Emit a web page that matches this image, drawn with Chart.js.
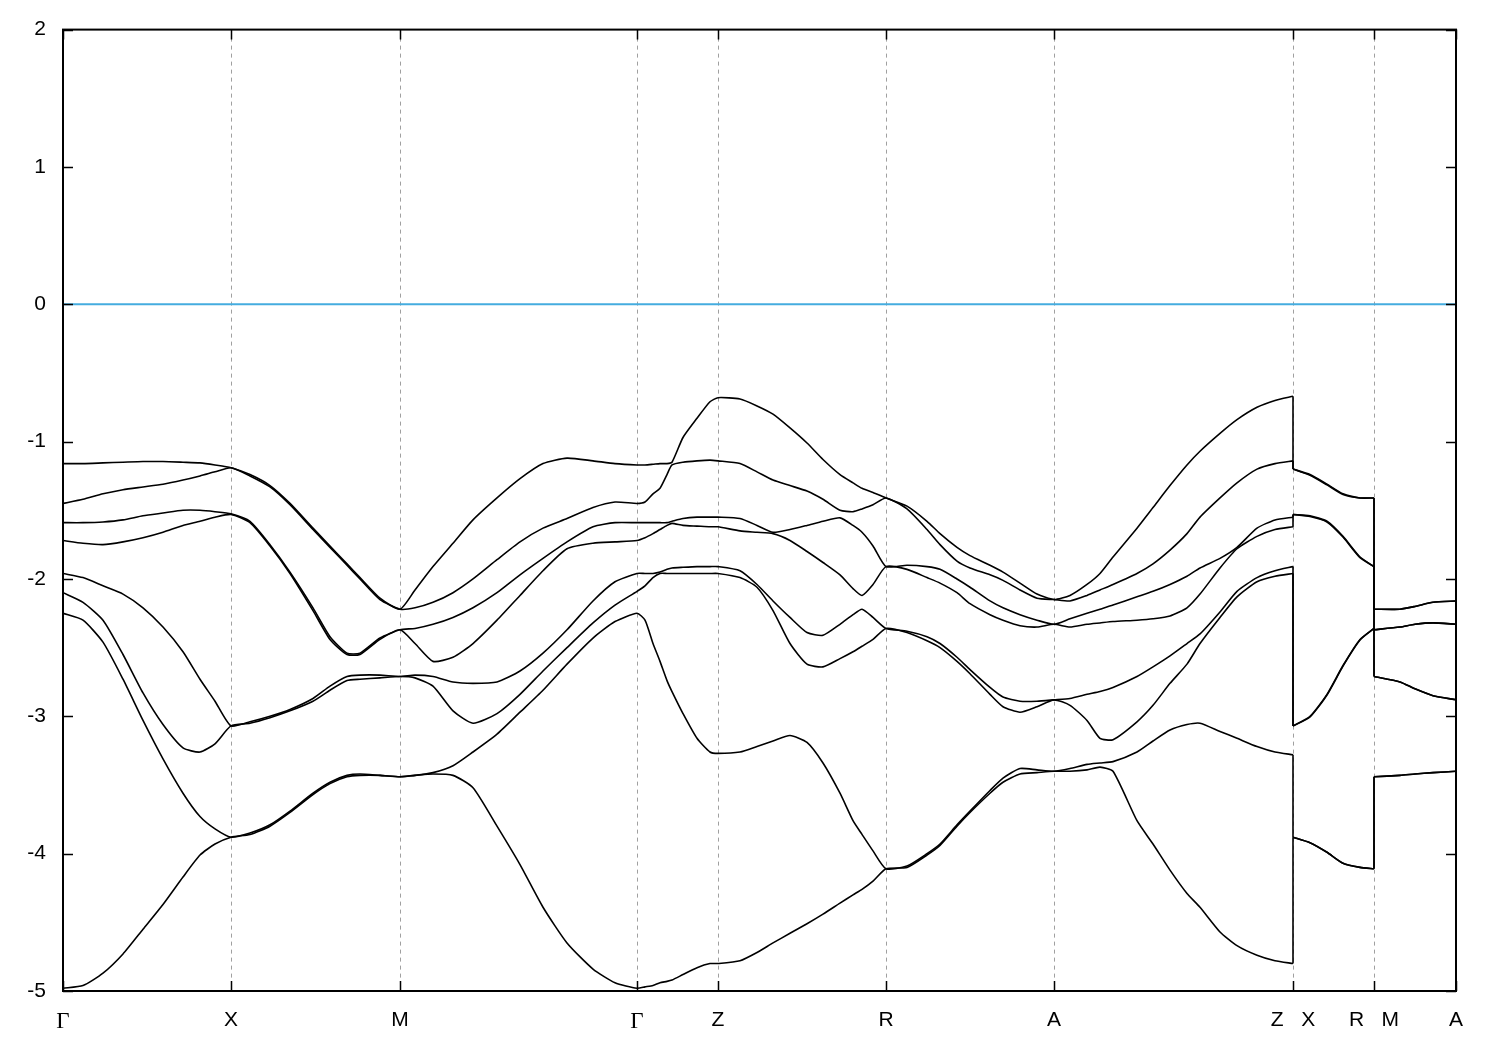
<!DOCTYPE html>
<html>
<head>
<meta charset="utf-8">
<script src="https://cdn.jsdelivr.net/npm/chart.js@4.4.1/dist/chart.umd.min.js"></script>
<style>
  html, body { margin: 0; padding: 0; background: #fff; }
  canvas { display: block; }
</style>
</head>
<body>
<canvas id="bands" width="1500" height="1050"></canvas>
<script>
// distance along the k-path (arbitrary units)
const kPath = [0, 0.20, 0.40, 0.60, 0.80, 1.00, 1.20, 1.37, 1.52, 1.68,
  1.87, 2.07, 2.27, 2.50, 2.67, 2.84, 2.97, 3.17, 3.37,
  3.52, 3.70, 3.90, 4.10, 4.34, 4.57, 4.80, 5.04, 5.30, 5.52, 5.74,
  5.82, 5.90, 5.97, 6.04, 6.09, 6.20, 6.34, 6.47, 6.55,
  6.77, 6.94, 7.10, 7.27, 7.44, 7.60, 7.77, 7.90, 7.99, 8.10, 8.23,
  8.44, 8.64, 8.77, 8.94, 9.07, 9.27, 9.40, 9.57, 9.74, 9.91,
  10.07, 10.24, 10.37, 10.50, 10.74, 10.90, 11.07, 11.24, 11.37, 11.57, 11.74, 11.94, 12.12, 12.30,
  12.30, 12.47, 12.64, 12.80, 12.97, 13.11,
  13.11, 13.37, 13.52, 13.70, 13.93];

// the path breaks at Z|X and R|M: index ranges of the three pieces
const pieces = [[0, 73], [74, 79], [80, 84]];

const symTicks = [0, 1.68, 3.37, 5.74, 6.55, 8.23, 9.91, 12.30, 13.11, 13.93];
const symLabels = ['Γ', 'X', 'M', 'Γ', 'Z', 'R', 'A', 'Z   X', 'R   M', 'A'];
const yTicks = [-5, -4, -3, -2, -1, 0, 1, 2];

// band energies (eV), lowest band first
const band1 = [-4.98, -4.96, -4.87, -4.73, -4.55, -4.37, -4.17, -4.01, -3.93, -3.88,
  -3.86, -3.80, -3.70, -3.57, -3.49, -3.44, -3.43, -3.43, -3.44,
  -3.43, -3.42, -3.43, -3.52, -3.80, -4.08, -4.39, -4.65, -4.84, -4.94, -4.98,
  -4.97, -4.96, -4.94, -4.93, -4.92, -4.88, -4.83, -4.80, -4.80,
  -4.78, -4.72, -4.65, -4.58, -4.51, -4.44, -4.36, -4.30, -4.26, -4.20, -4.11,
  -4.10, -4.01, -3.94, -3.80, -3.70, -3.56, -3.48, -3.42, -3.41, -3.40,
  -3.40, -3.39, -3.37, -3.40, -3.76, -3.93, -4.12, -4.29, -4.39, -4.57, -4.67, -4.74, -4.78, -4.80,
  -3.88, -3.92, -3.99, -4.07, -4.10, -4.11,
  -3.44, -3.43, -3.42, -3.41, -3.40];

const band2 = [-2.25, -2.30, -2.46, -2.73, -3.03, -3.31, -3.56, -3.73, -3.82, -3.88,
  -3.85, -3.79, -3.69, -3.56, -3.48, -3.43, -3.42, -3.43, -3.44,
  -3.43, -3.41, -3.36, -3.26, -3.13, -2.97, -2.81, -2.62, -2.43, -2.31, -2.25,
  -2.30, -2.47, -2.60, -2.74, -2.82, -2.98, -3.16, -3.26, -3.27,
  -3.26, -3.22, -3.18, -3.14, -3.19, -3.34, -3.56, -3.76, -3.86, -3.98, -4.11,
  -4.09, -4.00, -3.93, -3.79, -3.69, -3.54, -3.45, -3.38, -3.39, -3.40,
  -3.38, -3.35, -3.34, -3.33, -3.26, -3.18, -3.10, -3.06, -3.05, -3.11, -3.16, -3.22, -3.26, -3.28,
  -3.88, -3.92, -3.99, -4.07, -4.10, -4.11,
  -3.44, -3.43, -3.42, -3.41, -3.40];

const band3 = [-2.10, -2.17, -2.30, -2.55, -2.83, -3.06, -3.23, -3.26, -3.20, -3.07,
  -3.05, -3.01, -2.96, -2.89, -2.81, -2.74, -2.73, -2.72, -2.71,
  -2.72, -2.78, -2.96, -3.05, -2.98, -2.84, -2.67, -2.50, -2.32, -2.19, -2.09,
  -2.05, -1.99, -1.96, -1.96, -1.96, -1.96, -1.96, -1.96, -1.96,
  -1.99, -2.06, -2.23, -2.47, -2.62, -2.64, -2.58, -2.53, -2.49, -2.44, -2.36,
  -2.39, -2.45, -2.50, -2.60, -2.69, -2.84, -2.93, -2.97, -2.93, -2.88,
  -2.92, -3.03, -3.16, -3.17, -3.04, -2.92, -2.76, -2.62, -2.47, -2.28, -2.13, -2.02, -1.98, -1.96,
  -3.07, -3.005, -2.845, -2.635, -2.445, -2.36,
  -2.71, -2.75, -2.80, -2.85, -2.88];

const band4 = [-1.96, -1.99, -2.05, -2.11, -2.21, -2.35, -2.53, -2.73, -2.89, -3.07,
  -3.04, -3.00, -2.95, -2.87, -2.78, -2.71, -2.70, -2.70, -2.71,
  -2.70, -2.71, -2.75, -2.76, -2.75, -2.67, -2.54, -2.37, -2.16, -2.02, -1.96,
  -1.96, -1.96, -1.95, -1.93, -1.92, -1.915, -1.91, -1.91, -1.91,
  -1.94, -2.04, -2.16, -2.28, -2.39, -2.41, -2.33, -2.26, -2.22, -2.28, -2.36,
  -2.38, -2.42, -2.47, -2.57, -2.66, -2.79, -2.86, -2.89, -2.89, -2.88,
  -2.87, -2.84, -2.82, -2.79, -2.71, -2.64, -2.56, -2.47, -2.40, -2.24, -2.09, -1.99, -1.94, -1.91,
  -3.07, -3.00, -2.84, -2.63, -2.44, -2.36,
  -2.71, -2.75, -2.80, -2.85, -2.88];

const band5 = [-1.72, -1.74, -1.75, -1.73, -1.70, -1.66, -1.61, -1.58, -1.55, -1.53,
  -1.59, -1.76, -1.96, -2.23, -2.44, -2.55, -2.55, -2.44, -2.37,
  -2.47, -2.60, -2.57, -2.47, -2.30, -2.12, -1.94, -1.78, -1.74, -1.73, -1.72,
  -1.70, -1.67, -1.64, -1.61, -1.595, -1.61, -1.615, -1.62, -1.62,
  -1.65, -1.66, -1.67, -1.72, -1.80, -1.88, -1.97, -2.07, -2.12, -2.04, -1.91,
  -1.93, -1.99, -2.03, -2.10, -2.18, -2.26, -2.30, -2.34, -2.35, -2.33,
  -2.35, -2.33, -2.32, -2.31, -2.30, -2.29, -2.27, -2.21, -2.11, -1.92, -1.78, -1.69, -1.64, -1.62,
  -1.53, -1.545, -1.585, -1.695, -1.845, -1.91,
  -2.37, -2.35, -2.33, -2.32, -2.33];

const band6 = [-1.59, -1.59, -1.585, -1.57, -1.54, -1.52, -1.50, -1.50, -1.51, -1.525,
  -1.58, -1.75, -1.95, -2.21, -2.42, -2.54, -2.54, -2.43, -2.37,
  -2.36, -2.33, -2.28, -2.21, -2.10, -1.97, -1.85, -1.73, -1.62, -1.59, -1.59,
  -1.59, -1.59, -1.59, -1.59, -1.58, -1.56, -1.55, -1.55, -1.55,
  -1.56, -1.61, -1.66, -1.64, -1.61, -1.58, -1.555, -1.61, -1.66, -1.76, -1.91,
  -1.90, -1.91, -1.93, -2.00, -2.06, -2.16, -2.21, -2.26, -2.30, -2.33,
  -2.29, -2.25, -2.22, -2.19, -2.13, -2.09, -2.04, -1.98, -1.92, -1.85, -1.77, -1.63, -1.57, -1.55,
  -1.53, -1.54, -1.58, -1.69, -1.84, -1.91,
  -2.37, -2.35, -2.33, -2.32, -2.33];

const band7 = [-1.45, -1.42, -1.38, -1.35, -1.33, -1.31, -1.28, -1.25, -1.22, -1.19,
  -1.25, -1.33, -1.46, -1.64, -1.77, -1.90, -2.00, -2.15, -2.22,
  -2.21, -2.17, -2.10, -2.00, -1.86, -1.73, -1.63, -1.56, -1.48, -1.44, -1.45,
  -1.44, -1.38, -1.34, -1.24, -1.17, -1.15, -1.14, -1.135, -1.14,
  -1.16, -1.22, -1.28, -1.32, -1.36, -1.42, -1.50, -1.51, -1.49, -1.46, -1.41,
  -1.49, -1.64, -1.75, -1.87, -1.92, -1.97, -2.01, -2.08, -2.14, -2.15,
  -2.16, -2.12, -2.08, -2.04, -1.96, -1.89, -1.79, -1.67, -1.55, -1.41, -1.30, -1.20, -1.16, -1.14,
  -1.20, -1.245, -1.315, -1.385, -1.41, -1.41,
  -2.22, -2.22, -2.20, -2.17, -2.16];

const band8 = [-1.16, -1.16, -1.155, -1.15, -1.145, -1.145, -1.15, -1.155, -1.17, -1.19,
  -1.24, -1.32, -1.45, -1.63, -1.76, -1.89, -1.99, -2.14, -2.22,
  -2.08, -1.91, -1.74, -1.57, -1.41, -1.27, -1.16, -1.12, -1.14, -1.16, -1.17,
  -1.17, -1.165, -1.16, -1.16, -1.15, -0.97, -0.83, -0.71, -0.68,
  -0.69, -0.74, -0.80, -0.90, -1.01, -1.13, -1.24, -1.30, -1.34, -1.37, -1.41,
  -1.47, -1.58, -1.67, -1.77, -1.83, -1.90, -1.95, -2.03, -2.11, -2.15,
  -2.12, -2.04, -1.96, -1.84, -1.63, -1.48, -1.32, -1.17, -1.07, -0.94, -0.84, -0.75, -0.70, -0.67,
  -1.20, -1.24, -1.31, -1.38, -1.41, -1.41,
  -2.22, -2.22, -2.20, -2.17, -2.16];

const fermiLevel = [0, 0];

const bands = [band1, band2, band3, band4, band5, band6, band7, band8];

const lineStyle = { borderColor: '#000', borderWidth: 1.6, pointRadius: 0, fill: false };

const datasets = [{
  data: [{ x: kPath[0], y: fermiLevel[0] }, { x: kPath[kPath.length - 1], y: fermiLevel[1] }],
  borderColor: '#45acdf',
  borderWidth: 2,
  pointRadius: 0,
  fill: false
}];

bands.forEach(b => {
  const pts = kPath.map((k, i) => ({ x: k, y: b[i] }));
  // smooth pieces along the path
  pieces.forEach(([s, e]) => {
    datasets.push(Object.assign({ data: pts.slice(s, e + 1), tension: 0.2 }, lineStyle));
  });
  // straight vertical joins where the path breaks
  for (let p = 0; p < pieces.length - 1; p++) {
    const e = pieces[p][1];
    datasets.push(Object.assign({ data: [pts[e], pts[e + 1]], tension: 0 }, lineStyle));
  }
});

// gnuplot style frame with inward ticks
const framePlugin = {
  id: 'frame',
  afterDraw(chart) {
    const { ctx, chartArea: a, scales: { x, y } } = chart;
    ctx.save();
    ctx.strokeStyle = '#000';
    ctx.lineWidth = 2;
    ctx.strokeRect(a.left, a.top, a.right - a.left, a.bottom - a.top);
    ctx.beginPath();
    yTicks.forEach(v => {
      const py = Math.round(y.getPixelForValue(v)) + 0.5;
      ctx.moveTo(a.left, py); ctx.lineTo(a.left + 10, py);
      ctx.moveTo(a.right, py); ctx.lineTo(a.right - 10, py);
    });
    symTicks.forEach(v => {
      const px = Math.round(x.getPixelForValue(v)) + 0.5;
      ctx.moveTo(px, a.bottom); ctx.lineTo(px, a.bottom - 10);
      ctx.moveTo(px, a.top); ctx.lineTo(px, a.top + 10);
    });
    ctx.lineWidth = 1.5;
    ctx.stroke();
    ctx.restore();
  }
};

new Chart(document.getElementById('bands'), {
  type: 'line',
  data: { datasets: datasets },
  options: {
    responsive: false,
    animation: false,
    layout: { padding: { left: 0, right: 44, top: 28, bottom: 0 } },
    plugins: { legend: { display: false }, tooltip: { enabled: false } },
    scales: {
      x: {
        type: 'linear',
        min: 0,
        max: 13.93,
        afterBuildTicks: s => { s.ticks = symTicks.map(v => ({ value: v })); },
        afterFit: s => { s.height = 59; },
        grid: { color: '#a0a0a0', lineWidth: 1, drawTicks: false },
        border: { display: false, dash: [4, 4] },
        ticks: {
          autoSkip: false,
          maxRotation: 0,
          padding: 17,
          color: '#000',
          font: ctx => ({
            family: ctx.tick && ctx.tick.label === 'Γ' ? 'Liberation Serif' : 'Liberation Sans',
            size: ctx.tick && ctx.tick.label === 'Γ' ? 23 : 21
          }),
          callback: (v, i) => symLabels[i]
        }
      },
      y: {
        min: -5,
        max: 2,
        afterFit: s => { s.width = 63; },
        grid: { display: false, drawTicks: false },
        border: { display: false },
        ticks: {
          stepSize: 1,
          padding: 17,
          color: '#000',
          font: { family: 'Liberation Sans', size: 21 }
        }
      }
    }
  },
  plugins: [framePlugin]
});
</script>
</body>
</html>
